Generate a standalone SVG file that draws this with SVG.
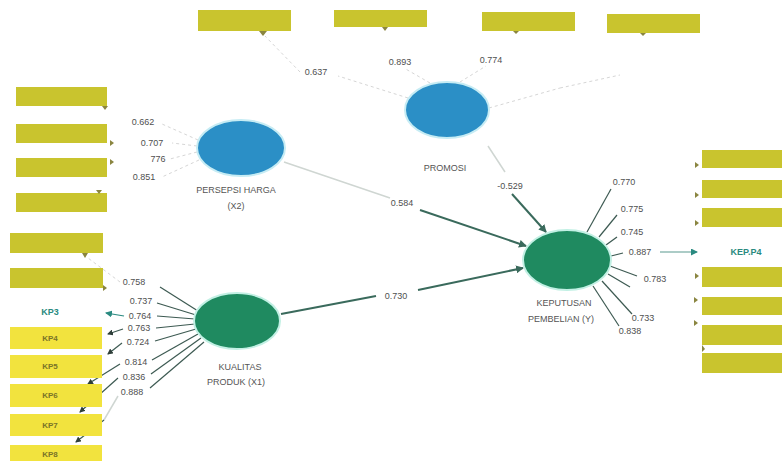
<svg xmlns="http://www.w3.org/2000/svg" width="782" height="461" viewBox="0 0 782 461">
<defs>
<style>
.ol{fill:#c9c42e;}
.ye{fill:#f2e33e;}
.bl{fill:#2b8fc6;stroke:#c6ecf4;stroke-width:2;}
.gr{fill:#1f8a60;stroke:#c2f0e4;stroke-width:2;}
.lbl{font-family:"Liberation Sans",Arial,sans-serif;font-size:9px;fill:#4f4f4f;text-anchor:middle;}
.cn{font-family:"Liberation Sans",Arial,sans-serif;font-size:9px;fill:#555;text-anchor:middle;}
.ind{font-family:"Liberation Sans",Arial,sans-serif;font-size:8px;font-weight:bold;fill:#7a7428;text-anchor:middle;}
.indt{font-family:"Liberation Sans",Arial,sans-serif;font-size:9px;font-weight:bold;fill:#2a8a80;text-anchor:middle;}
.ld{stroke:#3d5a52;stroke-width:1.2;fill:none;}
.pth{stroke:#3a6a5c;stroke-width:2;fill:none;}
.fnt{stroke:#d6d6d6;stroke-width:1;fill:none;stroke-dasharray:3 3;}
.fnt2{stroke:#cfd6d2;stroke-width:1.5;fill:none;}
.mk{fill:#8a8540;}
</style>
<marker id="ah" markerWidth="8" markerHeight="8" refX="7" refY="4" orient="auto" markerUnits="userSpaceOnUse">
<path d="M0,0 L8,4 L0,8 z" fill="#3a6a5c"/>
</marker>
<marker id="ahs" markerWidth="6" markerHeight="6" refX="5" refY="3" orient="auto" markerUnits="userSpaceOnUse">
<path d="M0,0 L6,3 L0,6 z" fill="#2f3f3a"/>
</marker>
<marker id="aht" markerWidth="7" markerHeight="7" refX="6" refY="3.5" orient="auto" markerUnits="userSpaceOnUse">
<path d="M0,0 L7,3.5 L0,7 z" fill="#2a8a80"/>
</marker>
</defs>
<rect width="782" height="461" fill="#ffffff"/>

<g id="connectors">
<line class="fnt2" x1="284" y1="162" x2="390" y2="198"/>
<line class="pth" x1="420" y1="210" x2="526" y2="246" marker-end="url(#ah)"/>
<line class="fnt2" x1="488" y1="146" x2="505" y2="172"/>
<line class="pth" x1="512" y1="194" x2="546" y2="232" marker-end="url(#ah)"/>
<line class="pth" x1="281" y1="314" x2="376" y2="296"/>
<line class="pth" x1="418" y1="290" x2="523" y2="268" marker-end="url(#ah)"/>
<line class="fnt" x1="408" y1="98" x2="338" y2="76"/>
<line class="fnt" x1="300" y1="72" x2="265" y2="36"/>
<line class="fnt" x1="430" y1="83" x2="404" y2="68"/>
<line class="fnt" x1="460" y1="82" x2="486" y2="66"/>
<line class="fnt" x1="489" y1="108" x2="560" y2="88"/>
<line class="fnt" x1="560" y1="88" x2="620" y2="75"/>
<line class="fnt" x1="198" y1="140" x2="162" y2="124"/>
<line class="fnt" x1="197" y1="146" x2="172" y2="143"/>
<line class="fnt" x1="197" y1="152" x2="170" y2="159"/>
<line class="fnt" x1="199" y1="160" x2="162" y2="177"/>
<line class="ld" x1="198" y1="311" x2="160" y2="287"/>
<line class="ld" x1="196" y1="315" x2="157" y2="303"/>
<line class="ld" x1="195" y1="319" x2="157" y2="316"/>
<line class="ld" x1="195" y1="324" x2="156" y2="328"/>
<line class="ld" x1="196" y1="329" x2="155" y2="341"/>
<line class="ld" x1="198" y1="334" x2="152" y2="360"/>
<line class="ld" x1="201" y1="338" x2="151" y2="374"/>
<line class="ld" x1="204" y1="342" x2="150" y2="388"/>
<line class="fnt" x1="120" y1="282" x2="88" y2="258"/>
<line class="ld" x1="124" y1="316" x2="106" y2="313" marker-end="url(#aht)" style="stroke:#2a8a80"/>
<line class="ld" x1="123" y1="329" x2="108" y2="334" marker-end="url(#ahs)"/>
<line class="ld" x1="122" y1="343" x2="108" y2="354" marker-end="url(#ahs)"/>
<line class="ld" x1="120" y1="364" x2="88" y2="384" marker-end="url(#ahs)"/>
<line class="ld" x1="118" y1="378" x2="80" y2="412" marker-end="url(#ahs)"/>
<line class="fnt2" x1="118" y1="396" x2="104" y2="420"/>
<line class="ld" x1="104" y1="420" x2="76" y2="442" marker-end="url(#ahs)"/>
<line class="ld" x1="587" y1="232" x2="611" y2="189"/>
<line class="ld" x1="599" y1="237" x2="617" y2="215"/>
<line class="ld" x1="606" y1="245" x2="617" y2="237"/>
<line class="ld" x1="611" y1="256" x2="623" y2="253"/>
<line class="ld" x1="610" y1="266" x2="637" y2="276"/>
<line class="ld" x1="608" y1="274" x2="630" y2="287"/>
<line class="ld" x1="602" y1="281" x2="632" y2="314"/>
<line class="ld" x1="593" y1="286" x2="619" y2="326"/>
<line class="ld" x1="660" y1="252" x2="697" y2="252" marker-end="url(#aht)" style="stroke:#5a9a90"/>
</g>

<g id="promosi">
<ellipse class="bl" cx="447" cy="110" rx="42" ry="28"/>
<text class="cn" x="445" y="171">PROMOSI</text>
</g>
<g id="persepsi-harga">
<ellipse class="bl" cx="241" cy="148" rx="44" ry="28"/>
<text class="cn" x="236" y="193">PERSEPSI HARGA</text>
<text class="cn" x="236" y="209">(X2)</text>
</g>
<g id="kualitas-produk">
<ellipse class="gr" cx="237" cy="321" rx="43" ry="28"/>
<text class="cn" x="240" y="370">KUALITAS</text>
<text class="cn" x="236" y="385">PRODUK (X1)</text>
</g>
<g id="keputusan-pembelian">
<ellipse class="gr" cx="567" cy="260" rx="44" ry="30"/>
<text class="cn" x="564" y="306">KEPUTUSAN</text>
<text class="cn" x="561" y="322">PEMBELIAN (Y)</text>
</g>

<g id="promosi-indicators">
<g id="x3-1"><rect class="ol" x="198" y="10" width="93" height="21"/><path class="mk" d="M259,31 L267,31 L263,36 z"/></g>
<g id="x3-2"><rect class="ol" x="334" y="10" width="93" height="17"/><path class="mk" d="M382,27 L388,27 L385,31 z"/></g>
<g id="x3-3"><rect class="ol" x="482" y="12" width="93" height="19"/><path class="mk" d="M513,31 L519,31 L516,34 z"/></g>
<g id="x3-4"><rect class="ol" x="607" y="14" width="93" height="19"/><path class="mk" d="M640,33 L646,33 L643,36 z"/></g>
</g>
<g id="persepsi-indicators">
<g id="x2-1"><rect class="ol" x="16" y="87" width="91" height="19"/><path class="mk" d="M102,106 L108,106 L105,110 z"/></g>
<g id="x2-2"><rect class="ol" x="16" y="124" width="91" height="19"/><path class="mk" d="M110,140 L114,143 L110,146 z"/></g>
<g id="x2-3"><rect class="ol" x="16" y="158" width="91" height="19"/><path class="mk" d="M110,159 L114,162 L110,165 z"/></g>
<g id="x2-4"><rect class="ol" x="16" y="193" width="91" height="19"/><path class="mk" d="M96,190 L102,190 L99,194 z"/></g>
</g>
<g id="kualitas-indicators">
<g id="kp1"><rect class="ol" x="10" y="233" width="93" height="20"/><path class="mk" d="M82,253 L88,253 L85,258 z"/></g>
<g id="kp2"><rect class="ol" x="10" y="268" width="93" height="20"/><path class="mk" d="M103,285 L107,288 L103,291 z"/></g>
<g id="kp3"><text class="indt" x="50" y="315">KP3</text></g>
<g id="kp4"><rect class="ye" x="10" y="327" width="92" height="22"/><text class="ind" x="50" y="341">KP4</text></g>
<g id="kp5"><rect class="ye" x="10" y="355" width="92" height="23"/><text class="ind" x="50" y="369">KP5</text></g>
<g id="kp6"><rect class="ye" x="10" y="384" width="92" height="23"/><text class="ind" x="50" y="398">KP6</text></g>
<g id="kp7"><rect class="ye" x="10" y="414" width="92" height="22"/><text class="ind" x="50" y="428">KP7</text></g>
<g id="kp8"><rect class="ye" x="10" y="445" width="92" height="16"/><text class="ind" x="50" y="457">KP8</text></g>
</g>
<g id="keputusan-indicators">
<g id="kep1"><rect class="ol" x="702" y="150" width="80" height="18"/><path class="mk" d="M695,162 L699,165 L695,168 z"/></g>
<g id="kep2"><rect class="ol" x="702" y="180" width="80" height="18"/><path class="mk" d="M695,192 L699,195 L695,198 z"/></g>
<g id="kep3"><rect class="ol" x="702" y="208" width="80" height="19"/><path class="mk" d="M695,220 L699,223 L695,226 z"/></g>
<g id="kep4"><text class="indt" x="746" y="255">KEP.P4</text></g>
<g id="kep5"><rect class="ol" x="702" y="267" width="80" height="20"/><path class="mk" d="M695,273 L699,276 L695,279 z"/></g>
<g id="kep6"><rect class="ol" x="702" y="297" width="80" height="18"/><path class="mk" d="M694,297 L698,300 L694,303 z"/></g>
<g id="kep7"><rect class="ol" x="702" y="325" width="80" height="20"/><path class="mk" d="M694,320 L698,323 L694,326 z"/></g>
<g id="kep8"><rect class="ol" x="702" y="353" width="80" height="20"/><path class="mk" d="M702,345 L705,349 L702,352 z"/></g>
</g>

<g id="labels">
<text class="lbl" x="316" y="75">0.637</text>
<text class="lbl" x="400" y="65">0.893</text>
<text class="lbl" x="491" y="63">0.774</text>
<text class="lbl" x="143" y="125">0.662</text>
<text class="lbl" x="152" y="146">0.707</text>
<text class="lbl" x="158" y="162">776</text>
<text class="lbl" x="144" y="180">0.851</text>
<text class="lbl" x="134" y="285">0.758</text>
<text class="lbl" x="141" y="304">0.737</text>
<text class="lbl" x="140" y="319">0.764</text>
<text class="lbl" x="139" y="331">0.763</text>
<text class="lbl" x="138" y="345">0.724</text>
<text class="lbl" x="136" y="365">0.814</text>
<text class="lbl" x="134" y="380">0.836</text>
<text class="lbl" x="132" y="395">0.888</text>
<text class="lbl" x="402" y="206">0.584</text>
<text class="lbl" x="510" y="189">-0.529</text>
<text class="lbl" x="396" y="299">0.730</text>
<text class="lbl" x="624" y="185">0.770</text>
<text class="lbl" x="632" y="212">0.775</text>
<text class="lbl" x="632" y="235">0.745</text>
<text class="lbl" x="640" y="255">0.887</text>
<text class="lbl" x="655" y="282">0.783</text>
<text class="lbl" x="643" y="321">0.733</text>
<text class="lbl" x="630" y="334">0.838</text>
</g>
</svg>
